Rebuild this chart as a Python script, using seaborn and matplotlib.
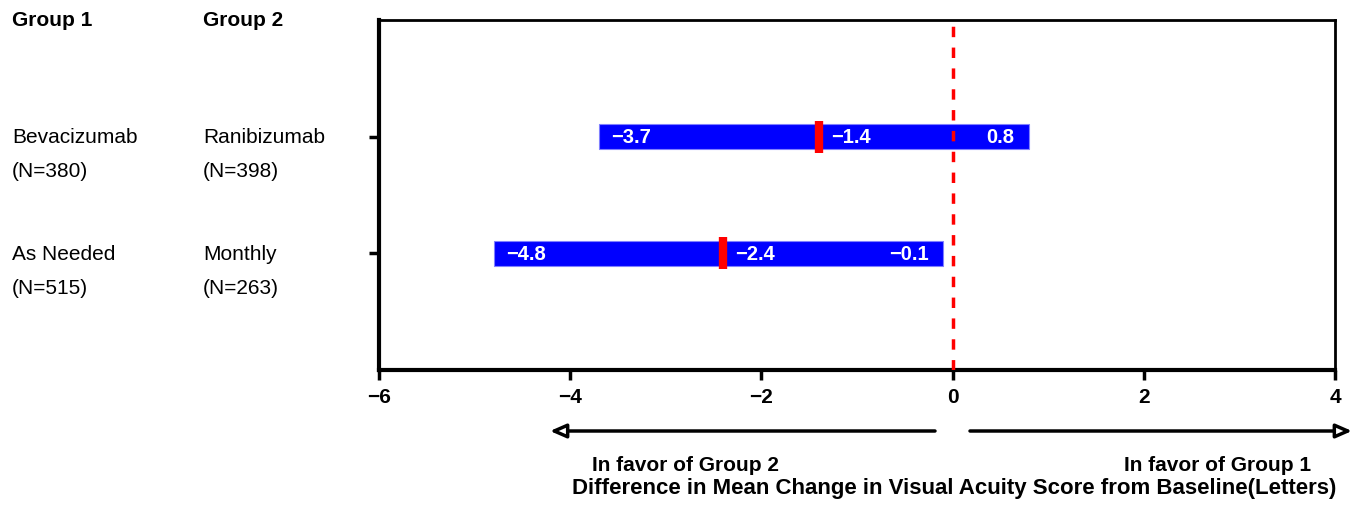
import matplotlib
matplotlib.use("Agg")
import matplotlib.pyplot as plt
import seaborn as sns
import pandas as pd

# Comparisons: difference in mean change of visual acuity with 95% CI
group1 = ["Bevacizumab", "As Needed"]
group1_n = ["(N=380)", "(N=515)"]
group2 = ["Ranibizumab", "Monthly"]
group2_n = ["(N=398)", "(N=263)"]
lower = [-3.7, -4.8]
mean_diff = [-1.4, -2.4]
upper = [0.8, -0.1]
row_pos = [2, 1]
x_ticks = [-6, -4, -2, 0, 2, 4]

df = pd.DataFrame({"g1": group1, "g2": group2, "lo": lower,
                   "mean": mean_diff, "hi": upper, "y": row_pos})

sns.set_theme(style="white")
plt.rcParams["font.family"] = ["Liberation Sans", "DejaVu Sans"]
plt.rcParams["text.color"] = "black"

fig = plt.figure(figsize=(13.65, 5.06), dpi=100)
ax = fig.add_axes([379 / 1365, 1 - 371 / 506, (1335 - 379) / 1365, (371 - 21) / 506])


def fmt(v):
    return f"\u2212{abs(v):.1f}" if v < 0 else f"{v:.1f}"


# Confidence-interval bars
ax.barh(df["y"], df["hi"] - df["lo"], left=df["lo"], height=0.21,
        color="#0000ff", edgecolor="#8080ff", linewidth=0.8, zorder=2)

# Mean markers
sns.scatterplot(data=df, x="mean", y="y", marker="|", s=500, linewidth=6,
                color="#ff0000", ax=ax, zorder=4, legend=False)

# Reference line at zero
ax.axvline(0, color="#ff0000", linestyle=(0, (3, 3)), linewidth=2.5, zorder=3)

# Value labels inside each bar
lab_kw = dict(color="white", fontsize=14.5, fontweight="bold", va="center", zorder=5)
for _, r in df.iterrows():
    ax.text(r["lo"] + 0.13, r["y"], fmt(r["lo"]), ha="left", **lab_kw)
    ax.text(r["mean"] + 0.13, r["y"], fmt(r["mean"]), ha="left", **lab_kw)
    ax.text(r["hi"] - 0.15, r["y"], fmt(r["hi"]), ha="right", **lab_kw)

ax.set_xlim(-6, 4)
ax.set_ylim(0, 3)
ax.set_xlabel("")
ax.set_ylabel("")
ax.set_xticks(x_ticks)
ax.set_xticklabels([f"\u2212{abs(t)}" if t < 0 else str(t) for t in x_ticks])
ax.set_yticks(row_pos)
ax.set_yticklabels([])
ax.tick_params(axis="both", direction="out", length=7, width=2.5, colors="black",
               labelcolor="black", labelsize=15, bottom=True, left=True, pad=5)
for lbl in ax.get_xticklabels():
    lbl.set_fontweight("bold")
for side in ["left", "bottom"]:
    ax.spines[side].set_linewidth(3)
for side in ["top", "right"]:
    ax.spines[side].set_linewidth(2)
for sp in ax.spines.values():
    sp.set_color("black")


def fx(px):
    return px / 1365


def fy(py):
    return 1 - py / 506


# Group headers and row labels
fig.text(fx(12), fy(20), "Group 1", fontsize=15, fontweight="bold", va="center")
fig.text(fx(203), fy(20), "Group 2", fontsize=15, fontweight="bold", va="center")
for i, yv in enumerate(row_pos):
    yf = ax.transData.transform((0, yv))[1] / fig.bbox.height
    off = 34 / 506
    fig.text(fx(12), yf, group1[i], fontsize=15, va="center")
    fig.text(fx(12), yf - off, group1_n[i], fontsize=15, va="center")
    fig.text(fx(203), yf, group2[i], fontsize=15, va="center")
    fig.text(fx(203), yf - off, group2_n[i], fontsize=15, va="center")

# Direction arrows below the axis
arrow_kw = dict(arrowstyle="-|>,head_length=0.8,head_width=0.35", lw=2.5,
                color="black", fc="white", shrinkA=0, shrinkB=0)
ax.annotate("", xy=(fx(550), fy(432)), xytext=(fx(935), fy(432)),
            xycoords="figure fraction", textcoords="figure fraction",
            arrowprops=arrow_kw, annotation_clip=False)
ax.annotate("", xy=(fx(1352), fy(432)), xytext=(fx(970), fy(432)),
            xycoords="figure fraction", textcoords="figure fraction",
            arrowprops=arrow_kw, annotation_clip=False)

fig.text(fx(685), fy(466), "In favor of Group 2", fontsize=15, fontweight="bold",
         ha="center", va="center")
fig.text(fx(1218), fy(466), "In favor of Group 1", fontsize=15, fontweight="bold",
         ha="center", va="center")
fig.text(fx(954), fy(489),
         "Difference in Mean Change in Visual Acuity Score from Baseline(Letters)",
         fontsize=16, fontweight="bold", ha="center", va="center")

fig.savefig("out.png", dpi=100, facecolor="white")
